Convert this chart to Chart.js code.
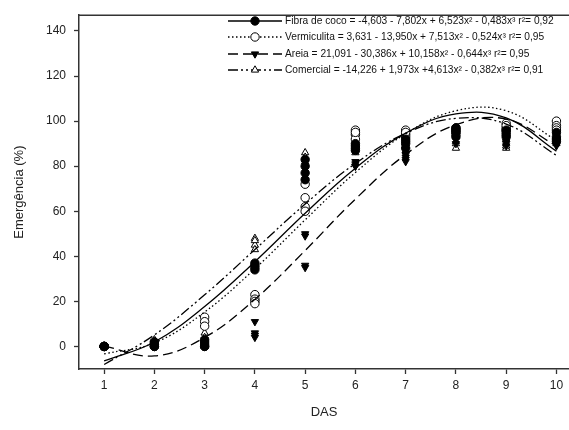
<!DOCTYPE html>
<html>
<head>
<meta charset="utf-8">
<script src="https://cdn.jsdelivr.net/npm/chart.js@4.4.1/dist/chart.umd.min.js"></script>
<style>
  body { margin: 0; background: #fff; }
  #box { width: 569px; height: 430px; }
</style>
</head>
<body>
<div id="box"><canvas id="grafico" width="569" height="430"></canvas></div>
<script>
// dias apos semeadura
const dias = [1, 2, 3, 4, 5, 6, 7, 8, 9, 10];
const yTicks = [0, 20, 40, 60, 80, 100, 120, 140];

// curvas ajustadas
const ajusteFibra = [-6.4, 2.0, 17.7, 37.6, 59.1, 79.1, 94.7, 103.2, 101.4, 86.7];
const ajusteVerm = [-3.3, 1.6, 15.3, 34.5, 56.2, 77.2, 94.4, 104.6, 104.6, 91.4];
const ajusteAreia = [0.2, -4.2, 4.0, 20.9, 42.6, 65.4, 85.2, 98.4, 100.9, 89.0];
const ajusteCom = [-8.0, 5.1, 22.9, 43.0, 63.2, 81.2, 94.6, 101.2, 98.7, 84.8];

// repeticoes observadas (4 por dia)
const fibraObs = [
  [0, 0, 0, 0], [1, 0, 2, 1], [1, 2, 0, 3], [37, 35, 34, 36], [83, 80, 77, 74],
  [90, 88, 87, 89], [92, 90, 88, 91], [97, 95, 93, 96], [95, 94, 93, 96], [92, 91, 93, 95]
];
const vermObs = [
  [0, 0, 0, 0], [0, 2, 1, 0], [13, 11, 9, 0], [23, 21, 20, 19], [72, 66, 62, 60],
  [96, 94, 92, 95], [96, 94, 93, 95], [96, 95, 94, 97], [99, 97, 96, 98], [100, 98, 97, 96]
];
const areiaObs = [
  [0, 0, 0, 0], [0, 1, 0, 0], [2, 1, 0, 3], [11, 6, 4, 5], [50, 36, 49, 35],
  [80, 81, 80, 82], [85, 83, 82, 84], [97, 94, 92, 90], [90, 91, 89, 92], [90, 92, 89, 91]
];
const comObs = [
  [0, 0, 0, 0], [2, 3, 1, 2], [6, 4, 2, 0], [48, 45, 43, 47], [86, 83, 82, 84],
  [93, 91, 88, 86], [92, 89, 87, 90], [93, 90, 88, 91], [92, 90, 88, 89], [95, 93, 91, 90]
];

const legendaTextos = [
  'Fibra de coco = -4,603 - 7,802x + 6,523x² - 0,483x³ r²= 0,92',
  'Vermiculita = 3,631 - 13,950x + 7,513x² - 0,524x³ r²= 0,95',
  'Areia = 21,091 - 30,386x + 10,158x² - 0,644x³ r²= 0,95',
  'Comercial = -14,226 + 1,973x +4,613x² - 0,382x³ r²= 0,91'
];

const estilos = [
  { dash: [], pointStyle: 'circle', rotation: 0, fill: '#000' },
  { dash: [1.5, 2.5], pointStyle: 'circle', rotation: 0, fill: '#fff' },
  { dash: [10, 5], pointStyle: 'triangle', rotation: 180, fill: '#000' },
  { dash: [10, 3, 2, 3, 2, 3], pointStyle: 'triangle', rotation: 0, fill: '#fff' }
];

function pontos(obs) {
  const out = [];
  obs.forEach((reps, i) => reps.forEach(v => out.push({ x: dias[i], y: v })));
  return out;
}
function curva(vals) {
  return vals.map((v, i) => ({ x: dias[i], y: v }));
}

const ajustes = [ajusteFibra, ajusteVerm, ajusteAreia, ajusteCom];
const observados = [fibraObs, vermObs, areiaObs, comObs];

const datasets = [];
ajustes.forEach((a, i) => {
  datasets.push({
    data: curva(a),
    showLine: true,
    tension: 0.4,
    borderColor: '#000',
    borderWidth: 1.3,
    borderDash: estilos[i].dash,
    pointRadius: 0,
    fill: false
  });
});
observados.forEach((o, i) => {
  datasets.push({
    data: pontos(o),
    showLine: false,
    pointStyle: estilos[i].pointStyle,
    rotation: estilos[i].rotation,
    pointRadius: 4.2,
    pointBorderWidth: 1,
    pointBorderColor: '#000',
    pointBackgroundColor: estilos[i].fill
  });
});

const legendaPlugin = {
  id: 'legenda',
  afterDraw(chart) {
    const ctx = chart.ctx;
    const area = chart.chartArea;
    ctx.save();
    ctx.strokeStyle = '#333';
    ctx.lineWidth = 1.5;
    ctx.beginPath();
    ctx.moveTo(area.left, area.top);
    ctx.lineTo(area.right, area.top);
    ctx.stroke();

    const ys = [21, 37, 54, 70];
    legendaTextos.forEach((txt, i) => {
      const y = ys[i];
      const e = estilos[i];
      ctx.strokeStyle = '#000';
      ctx.lineWidth = 1.3;
      ctx.setLineDash(e.dash);
      ctx.beginPath();
      ctx.moveTo(228, y);
      ctx.lineTo(282, y);
      ctx.stroke();
      ctx.setLineDash([]);
      ctx.fillStyle = e.fill;
      ctx.lineWidth = 1;
      Chart.helpers.drawPoint(ctx, { pointStyle: e.pointStyle, rotation: e.rotation, radius: 4.2, borderWidth: 1 }, 255, y);
      ctx.fillStyle = '#111';
      ctx.font = "10.2px 'Liberation Sans', Arial, sans-serif";
      ctx.textBaseline = 'middle';
      ctx.textAlign = 'left';
      ctx.fillText(txt, 285, y);
    });
    ctx.restore();
  }
};

const fonte = { family: "'Liberation Sans', Arial, sans-serif", size: 12 };

new Chart(document.getElementById('grafico'), {
  type: 'scatter',
  data: { datasets: datasets },
  options: {
    responsive: false,
    animation: false,
    layout: { autoPadding: false, padding: { top: 15, right: 0, left: 0, bottom: 0 } },
    plugins: { legend: { display: false }, tooltip: { enabled: false } },
    scales: {
      x: {
        type: 'linear',
        min: 0.5,
        max: 10.25,
        afterBuildTicks: s => { s.ticks = dias.map(v => ({ value: v })); },
        afterFit: s => { s.height = 61; s.paddingRight = 0; s.paddingLeft = 0; },
        ticks: { color: '#222', font: fonte, padding: 4, maxRotation: 0 },
        grid: { drawOnChartArea: false, drawTicks: true, tickLength: 5, color: '#333', tickWidth: 1.3 },
        border: { display: true, color: '#333', width: 1.5 },
        title: { display: true, text: 'DAS', color: '#222', font: { family: fonte.family, size: 13 }, padding: { top: 4, bottom: 10 } }
      },
      y: {
        type: 'linear',
        min: -10,
        max: 147,
        afterBuildTicks: s => { s.ticks = yTicks.map(v => ({ value: v })); },
        afterFit: s => { s.width = 79; },
        ticks: { color: '#222', font: fonte, padding: 8 },
        grid: { drawOnChartArea: false, drawTicks: true, tickLength: 5, color: '#333', tickWidth: 1.3 },
        border: { display: true, color: '#333', width: 1.5 },
        title: { display: true, text: 'Emergência (%)', color: '#222', font: { family: fonte.family, size: 13 }, padding: { top: 12, bottom: 4 } }
      }
    }
  },
  plugins: [legendaPlugin]
});
</script>
</body>
</html>
